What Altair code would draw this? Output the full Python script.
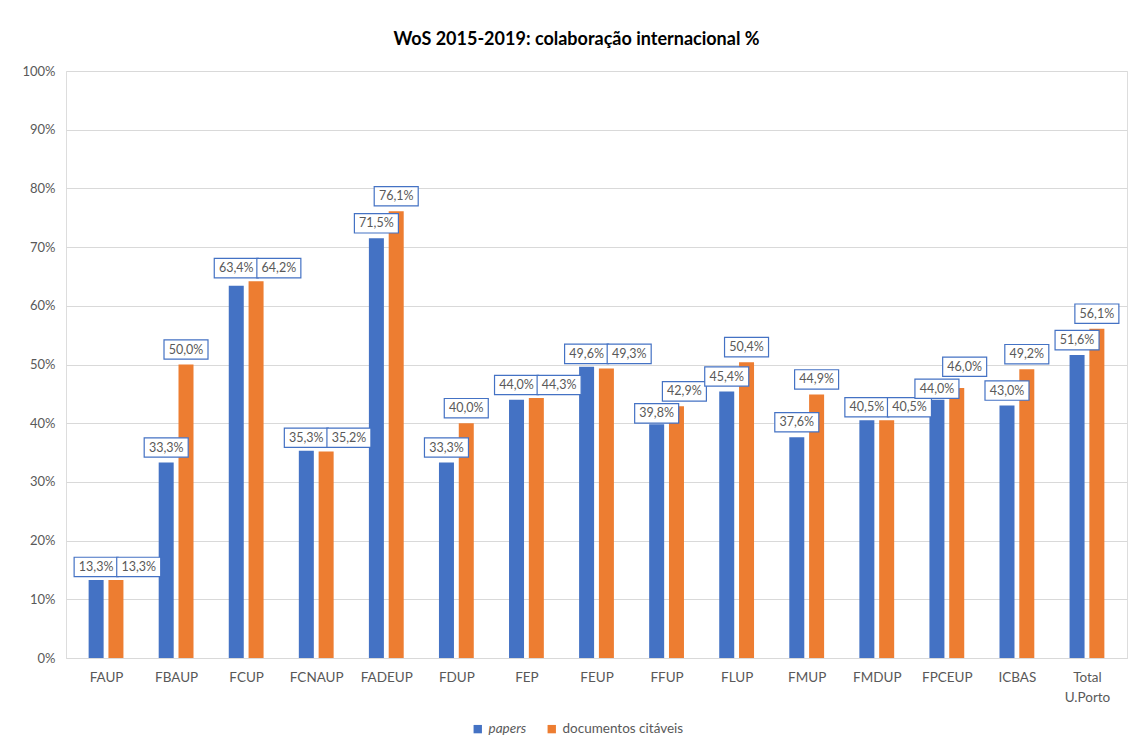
import json
import altair as alt
import pandas as pd

# ---- data ----
categories = ["FAUP", "FBAUP", "FCUP", "FCNAUP", "FADEUP", "FDUP", "FEP", "FEUP",
              "FFUP", "FLUP", "FMUP", "FMDUP", "FPCEUP", "ICBAS", "Total U.Porto"]
papers = [13.3, 33.3, 63.4, 35.3, 71.5, 33.3, 44.0, 49.6, 39.8, 45.4, 37.6, 40.5, 44.0, 43.0, 51.6]
documentos = [13.3, 50.0, 64.2, 35.2, 76.1, 40.0, 44.3, 49.3, 42.9, 50.4, 44.9, 40.5, 46.0, 49.2, 56.1]
series = ["papers", "documentos citáveis"]
colors = ["#4472C4", "#ED7D31"]
y_ticks = list(range(0, 101, 10))

# ---- layout constants ----
W, H = 1061, 587
PX_X = W / len(categories)   # px per category
PX_Y = H / 100.0             # px per percentage point
BAR_OFF = 10 / PX_X          # bar centre offset from category centre


def fmt(v):
    return f"{v:.1f}".replace(".", ",") + "%"


rows = []
for i, (a, b) in enumerate(zip(papers, documentos)):
    vals = {series[0]: a, series[1]: b}
    bx = {series[0]: i - BAR_OFF, series[1]: i + BAR_OFF}
    lab = {}
    d = abs(a - b)
    if d < 1:
        top = max(a, b)
        ly = top + 13 / PX_Y
        lab[series[0]] = (bx[series[0]], ly)
        lab[series[1]] = (bx[series[1]] + 23 / PX_X, ly)
    elif d < 3.5:
        lo, hi = (series[0], series[1]) if a < b else (series[1], series[0])
        ly_lo = vals[lo] + 11 / PX_Y
        lab[lo] = (bx[lo], ly_lo)
        shift = 8 if hi == series[1] else -8
        lab[hi] = (bx[hi] + shift / PX_X, ly_lo + 22 / PX_Y)
    else:
        for s in series:
            lab[s] = (bx[s], vals[s] + 15 / PX_Y)
    for s in series:
        rows.append({
            "cat": categories[i], "serie": s, "valor": vals[s], "bx": bx[s],
            "lx": lab[s][0], "ly": lab[s][1], "label": fmt(vals[s]),
        })

df = pd.DataFrame(rows)

cat_js = json.dumps([c if c != "Total U.Porto" else ["Total", "U.Porto"] for c in categories])

FONT = "Lato"
GREY = "#595959"

x_bar = alt.X("bx:Q", scale=alt.Scale(domain=[-0.5, len(categories) - 0.5], nice=False, zero=False),
              axis=alt.Axis(values=list(range(len(categories))), labelExpr=f"{cat_js}[datum.value]",
                            grid=False, ticks=False, domain=True, domainColor="#D9D9D9",
                            labelFontSize=13.5, labelColor=GREY, labelFont=FONT, labelPadding=12,
                            labelLineHeight=20, title=None))
y_bar = alt.Y("valor:Q", scale=alt.Scale(domain=[0, 100], nice=False),
              axis=alt.Axis(values=y_ticks, labelExpr="datum.value + '%'", grid=True,
                            gridColor="#D9D9D9", domain=False, ticks=False, labelFontSize=13,
                            labelColor=GREY, labelFont=FONT, labelPadding=11, title=None))

bars = alt.Chart(df).mark_bar(size=15).encode(
    x=x_bar,
    y=y_bar,
    color=alt.Color("serie:N", scale=alt.Scale(domain=series, range=colors),
                    legend=alt.Legend(orient="none", legendX=405, legendY=651,
                                      direction="horizontal", title=None,
                                      symbolType="square", symbolSize=70, labelFontSize=13.5,
                                      labelFont=FONT, labelColor=GREY, columnPadding=18,
                                      labelFontStyle=alt.ExprRef("datum.label == 'papers' ? 'italic' : 'normal'"))),
)

box_path = "M-1,-0.44L1,-0.44L1,0.44L-1,0.44Z"
boxes = alt.Chart(df).mark_point(shape=box_path, size=44 * 44, filled=True, fill="white",
                                 stroke="#4472C4", strokeWidth=1.2, opacity=1).encode(
    x="lx:Q", y="ly:Q")

texts = alt.Chart(df).mark_text(font=FONT, fontSize=12.5, color=GREY, baseline="middle",
                                align="center").encode(x="lx:Q", y="ly:Q", text="label:N")

chart = alt.layer(bars, boxes, texts).properties(
    width=W, height=H,
    title=alt.Title("WoS 2015-2019: colaboração internacional %", font=FONT, fontSize=18,
                    fontWeight="bold", color="#000000", anchor="middle", offset=16, dx=-20),
    autosize=alt.AutoSizeParams(type="none"),
    padding={"left": 58, "top": 63, "right": 2, "bottom": 85},
).configure_view(stroke=None).configure(background="white")

chart.save("out.html", embed_options={"renderer": "svg", "actions": False})
